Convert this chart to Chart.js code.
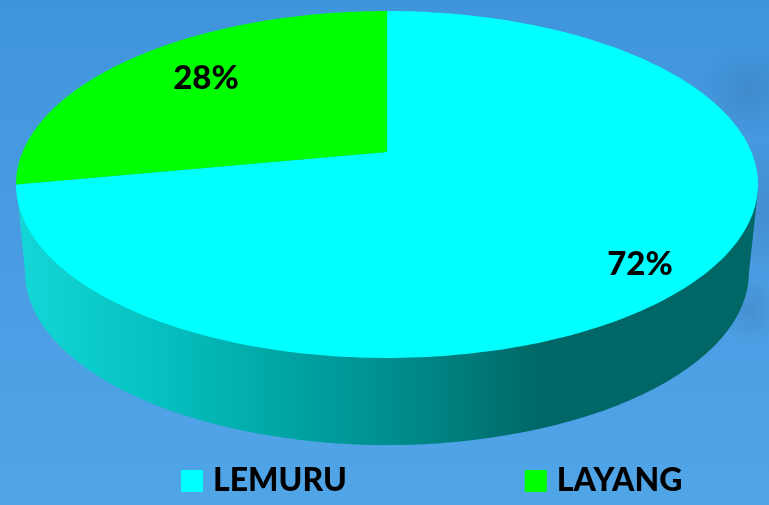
<!DOCTYPE html>
<html>
<head>
<meta charset="utf-8">
<script src="https://cdn.jsdelivr.net/npm/chart.js@4"></script>
<style>
  html, body { margin: 0; padding: 0; }
  body {
    width: 769px; height: 505px; overflow: hidden;
    background:
      radial-gradient(ellipse 50px 45px at 750px 90px, rgba(50,90,140,.22), rgba(50,90,140,0)),
      radial-gradient(ellipse 35px 70px at 765px 210px, rgba(50,90,150,.22), rgba(50,90,150,0)),
      radial-gradient(ellipse 30px 35px at 750px 310px, rgba(50,90,140,.22), rgba(50,90,140,0)),
      linear-gradient(180deg, #3f95dc 0%, #4a9ce2 50%, #50a5e7 100%);
  }
  canvas { display: block; }
</style>
</head>
<body>
<canvas id="chartPie" width="769" height="505"></canvas>
<script>
const categories = ["LEMURU", "LAYANG"];
const shares = [72, 28];
const sliceColors = ["#00ffff", "#00ff00"];

// where the percent labels sit, same order as categories
const labelSpots = [[640, 264], [206, 78]];

// perspective of the disc: circle -> picture
const cx = 387, persp = -0.1873, kx = 364.4, ky = 138.9, apexY = 152;

function project(angle) {
  const u = Math.cos(angle), v = Math.sin(angle);
  const d = 1 + persp * v;
  return [cx + kx * u / d, (ky * v + apexY) / d];
}

function traceSlice(ctx, start, end) {
  ctx.beginPath();
  ctx.moveTo(cx, apexY);
  const steps = 240;
  for (let i = 0; i <= steps; i++) {
    const p = project(start + (end - start) * i / steps);
    ctx.lineTo(p[0], p[1]);
  }
  ctx.closePath();
}

function drawWall(ctx) {
  const grad = ctx.createLinearGradient(20, 0, 750, 0);
  grad.addColorStop(0, "#14d6d6");
  grad.addColorStop(0.18, "#06c2c2");
  grad.addColorStop(0.38, "#00a2a2");
  grad.addColorStop(0.52, "#008c8c");
  grad.addColorStop(0.72, "#006666");
  grad.addColorStop(1, "#006666");
  ctx.fillStyle = grad;
  ctx.beginPath();
  ctx.moveTo(17, 190);
  ctx.lineTo(758, 190);
  ctx.lineTo(749, 272);
  ctx.ellipse(cx, 272, 362, 173, 0, 0, Math.PI);
  ctx.closePath();
  ctx.fill();
}

const disc3d = {
  id: "disc3d",
  afterLayout(chart) {
    // legend sits under the disc, items far apart on one line
    chart.legend.left = 3;
    chart.legend.right = 2000;
    chart.legend.top = 281;
  },
  beforeDatasetDraw(chart, args) {
    const ctx = chart.ctx;
    const arcs = args.meta.data;
    ctx.save();
    drawWall(ctx);
    arcs.forEach((arc, i) => {
      traceSlice(ctx, arc.startAngle, arc.endAngle);
      ctx.fillStyle = sliceColors[i];
      ctx.fill();
    });
    ctx.fillStyle = "#000";
    ctx.font = "900 33px Lato";
    ctx.textAlign = "center";
    ctx.textBaseline = "middle";
    shares.forEach((val, i) => {
      ctx.fillText(val + "%", labelSpots[i][0], labelSpots[i][1]);
    });
    ctx.restore();
    return false;
  },
};

const configPie = {
  type: "pie",
  data: {
    labels: categories,
    datasets: [
      {
        data: shares,
        backgroundColor: sliceColors,
        borderWidth: 0,
      },
    ],
  },
  options: {
    responsive: false,
    animation: false,
    plugins: {
      tooltip: { enabled: false },
      legend: {
        position: "bottom",
        align: "start",
        labels: {
          usePointStyle: true,
          pointStyle: "rect",
          boxWidth: 10,
          boxHeight: 22,
          padding: 184,
          color: "#000",
          font: { family: "Lato", weight: "900", size: 32 },
        },
      },
    },
  },
  plugins: [disc3d],
};

var chartPie = new Chart(document.getElementById("chartPie"), configPie);
</script>
</body>
</html>
